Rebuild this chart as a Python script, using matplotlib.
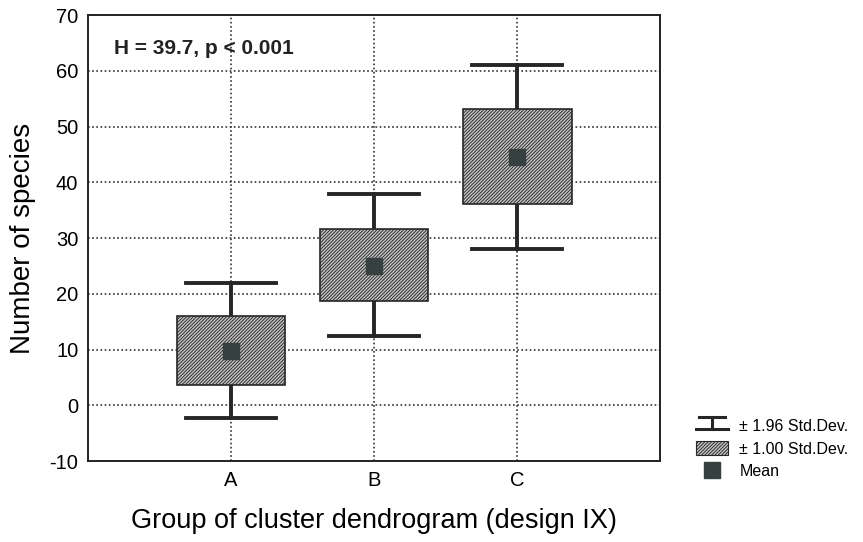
import numpy as np
import matplotlib
import matplotlib.pyplot as plt
from matplotlib.patches import Rectangle
from matplotlib.lines import Line2D
from matplotlib.legend_handler import HandlerBase

plt.rcParams['font.family'] = ['Liberation Sans', 'DejaVu Sans']
plt.rcParams['hatch.linewidth'] = 0.65
plt.rcParams['axes.unicode_minus'] = False

groups = ['A', 'B', 'C']
means = np.array([9.7, 25.1, 44.5])
sd_low = np.array([3.6, 18.7, 36.2])
sd_high = np.array([16.0, 31.6, 53.1])
ci_low = np.array([-2.3, 12.4, 28.0])
ci_high = np.array([22.0, 38.0, 61.0])

dark = '#262626'
box_face = '#c4c4c4'
box_w = 0.76
cap_w = 0.63
hatch = '//////////'

fig = plt.figure(figsize=[8.63, 5.42], dpi=100)
ax = fig.add_axes([0.102, 0.149, 0.663, 0.823])

xs = np.arange(1, len(groups) + 1)
for x, lo, hi, blo, bhi in zip(xs, ci_low, ci_high, sd_low, sd_high):
    ax.plot([x, x], [lo, blo], color=dark, lw=2.8, zorder=3)
    ax.plot([x, x], [bhi, hi], color=dark, lw=2.8, zorder=3)
    ax.plot([x - cap_w/2, x + cap_w/2], [lo, lo], color=dark, lw=2.8, zorder=3)
    ax.plot([x - cap_w/2, x + cap_w/2], [hi, hi], color=dark, lw=2.8, zorder=3)
    ax.add_patch(Rectangle((x - box_w/2, blo), box_w, bhi - blo, facecolor=box_face,
                           edgecolor=dark, hatch=hatch, lw=1.2, zorder=4))
ax.plot(xs, means, 's', color='#364040', ms=12, zorder=5)

ax.set_xlim(0, 4)
ax.set_ylim(-10, 70)
ax.set_xticks(xs)
ax.set_xticklabels(groups)
ax.set_yticks(np.arange(-10, 71, 10))
ax.tick_params(labelsize=14.5, length=0, pad=7)
ax.grid(True, linestyle=(0, (1, 1.5)), color='#333333', lw=1.2)
ax.set_axisbelow(True)
for s in ax.spines.values():
    s.set_linewidth(1.4)
    s.set_color('#222222')
ax.set_ylabel('Number of species', fontsize=20, labelpad=10)
ax.set_xlabel('Group of cluster dendrogram (design IX)', fontsize=19.5, labelpad=13)
ax.text(0.045, 0.925, 'H = 39.7, p < 0.001', transform=ax.transAxes, fontsize=15,
        fontweight='bold', va='center', color='#222222')


class WhiskerHandler(HandlerBase):
    def create_artists(self, legend, orig, xd, yd, w, h, fs, trans):
        y0 = yd + 0.05*h
        y1 = yd + 0.95*h
        xm = xd + w/2
        a = Line2D([xd, xd + w], [y0, y0], color=dark, lw=2.2, transform=trans)
        b = Line2D([xd + 0.1*w, xd + 0.9*w], [y1, y1], color=dark, lw=2.2, transform=trans)
        c = Line2D([xm, xm], [y0, y1], color=dark, lw=2.2, transform=trans)
        return [a, b, c]


h1 = Line2D([], [])
h2 = Rectangle((0, 0), 1, 1, facecolor=box_face, edgecolor=dark, hatch=hatch, lw=0.8)
h3 = Line2D([], [], marker='s', ls='none', color='#364040', ms=11)
fig.legend([h1, h2, h3], ['± 1.96 Std.Dev.', '± 1.00 Std.Dev.', 'Mean'],
           handler_map={h1: WhiskerHandler()}, loc='lower left',
           bbox_to_anchor=(0.79, 0.09), frameon=False, fontsize=11.5,
           handlelength=2.0, handleheight=0.9, labelspacing=0.45, handletextpad=0.7)

fig.savefig('out.png', dpi=100)
